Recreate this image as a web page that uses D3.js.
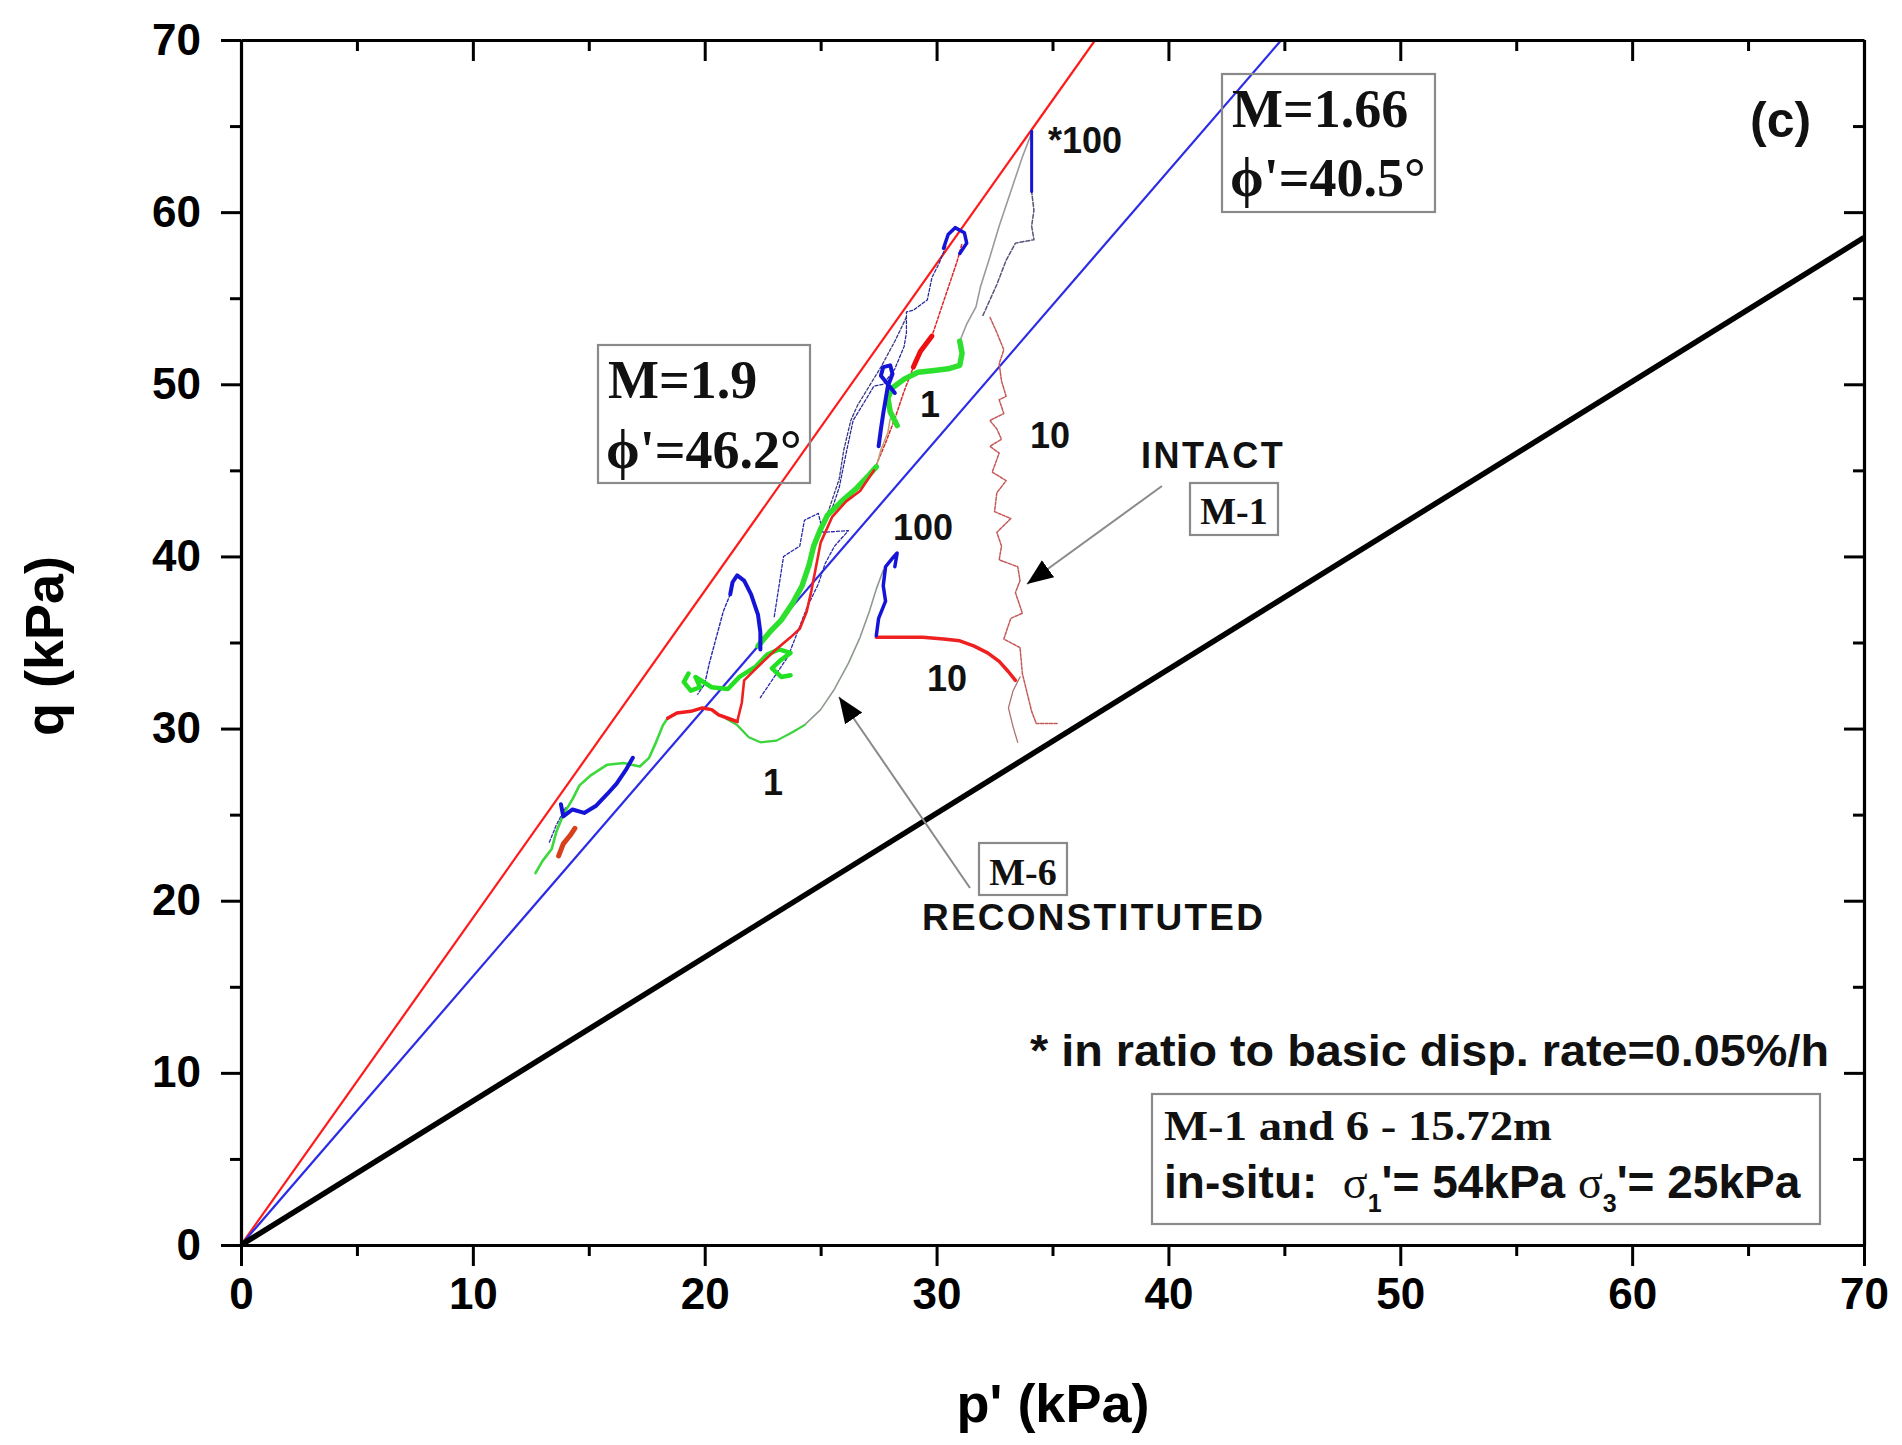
<!DOCTYPE html>
<html><head><meta charset="utf-8">
<script src="https://cdn.jsdelivr.net/npm/d3@7"></script>
<style>
html,body{margin:0;padding:0;background:#fff;}
svg{display:block;}
</style></head>
<body>
<svg id="chart" width="1902" height="1445"></svg>
<script>
// ---------- DATA (p', q in kPa) ----------
const xTicks = [0,10,20,30,40,50,60,70];
const yTicks = [0,10,20,30,40,50,60,70];
const minorTicks = [5,15,25,35,45,55,65];
// slopes q/p' of the reference lines: M=1.9 (red), M=1.66 (blue, as drawn), in-situ K0 (black)
const lineSlopes = [1.9, 1.56, 0.836];

const m6GreenLow = [[12.7,21.6],[13.0,22.3],[13.4,23.0],[13.6,24.0],[13.9,25.0],[14.3,25.9],[14.6,26.7],[15.1,27.3],[15.8,27.9],[16.5,28.0],[17.2,27.8],[17.6,28.3],[17.9,29.2],[18.2,30.2],[18.4,30.6]];
const redThickLow = [[18.4,30.6],[18.8,30.9],[19.4,31.0],[19.9,31.2],[20.3,31.1],[20.6,30.8],[21.0,30.6],[21.4,30.4]];
const redMid = [[21.4,30.4],[21.6,31.5],[21.7,32.8],[22.3,33.6],[23.0,34.5],[23.7,35.3],[24.1,35.8],[24.4,36.8],[24.6,38.0],[24.8,39.4],[25.0,40.8],[25.5,42.3],[26.1,43.2],[26.7,43.8],[27.3,45.0]];
const redDashUp = [[27.3,45.0],[27.8,46.6],[28.2,48.0],[28.6,49.6],[29.0,51.0],[29.4,52.0],[29.8,52.8],[30.1,54.0],[30.5,55.6],[30.9,57.2],[31.1,58.2]];
const redMarkers = [[29.0,51.0],[29.3,51.9],[29.8,52.8]];
const greenLowCurve = [[20.9,30.6],[21.4,30.2],[21.9,29.5],[22.4,29.2],[23.1,29.3],[23.8,29.8],[24.3,30.2]];
const grayLowCurve = [[24.3,30.2],[25.0,31.1],[25.6,32.3],[26.2,33.8],[26.7,35.3],[27.1,36.8],[27.4,38.1],[27.7,39.2]];
const blueThickLow = [[13.8,25.6],[13.9,24.9],[14.3,25.3],[14.8,25.1],[15.3,25.5],[15.8,26.2],[16.2,26.8],[16.6,27.6],[16.9,28.3]];
const redSmallLow = [[13.7,22.6],[13.9,23.3],[14.2,23.8],[14.4,24.2]];
const blueDashLow = [[13.3,23.4],[13.6,24.4],[14.0,25.4]];
const blueLoopMid = [[22.4,34.6],[22.4,35.6],[22.3,36.6],[22.0,37.8],[21.7,38.6],[21.4,38.9],[21.2,38.5],[21.1,37.8]];
const blueDashMid = [[21.1,37.8],[20.8,36.8],[20.5,35.3],[20.2,33.8],[20.0,32.6],[19.7,32.0]];
const greenBlobs = [[19.3,33.2],[19.1,32.7],[19.4,32.2],[19.8,32.4],[19.6,33.0],[20.3,32.4],[21.0,32.3],[21.5,33.0],[22.2,33.6],[22.7,34.3],[23.2,34.6],[23.7,34.4],[23.3,34.0],[22.9,33.5],[23.3,33.0],[23.7,33.1]];
const greenThickUp = [[22.3,34.8],[22.8,35.6],[23.3,36.3],[23.8,37.3],[24.2,38.3],[24.5,39.5],[24.7,40.6],[25.0,41.6],[25.3,42.4],[25.9,43.2],[26.5,43.9],[27.0,44.6],[27.4,45.2]];
const tanThin = [[27.4,45.2],[27.6,46.2],[27.9,47.2],[28.0,48.0]];
const blueThickUpper = [[27.5,46.4],[27.6,47.4],[27.7,48.3],[27.8,49.1],[27.9,49.9],[28.1,50.6],[28.0,51.1],[27.7,51.0],[27.6,50.5],[27.9,50.0],[28.2,49.5]];
const greenThickUpper = [[28.3,47.6],[28.0,48.4],[27.9,49.2],[28.1,49.8],[28.6,50.3],[29.2,50.7],[29.9,50.8],[30.5,50.9],[31.0,51.1],[31.1,51.8],[31.0,52.5]];
const grayUpper = [[31.0,52.5],[31.3,53.5],[31.7,54.5],[31.9,55.7],[32.3,57.4],[32.7,59.2],[33.2,61.2],[33.7,63.2],[34.1,64.6]];
const darkDashUpper = [[32.0,54.0],[32.6,55.8],[33.0,57.2],[33.4,58.2],[34.2,58.4],[34.1,59.2],[34.2,60.1],[34.1,61.2]];
const blueThickTop = [[34.1,61.2],[34.1,62.8],[34.1,64.7]];
const blueLoopTop = [[30.3,57.9],[30.5,58.7],[30.8,59.1],[31.2,58.8],[31.3,58.2],[31.0,57.6]];
const blueDashTop = [[30.4,58.0],[30.1,57.0],[29.8,56.2],[29.6,54.9],[29.0,54.3],[28.7,54.2],[28.7,53.0],[28.6,52.2],[28.2,50.9],[27.7,50.0],[27.3,49.9],[26.9,49.0],[26.4,47.9],[26.1,46.0],[25.8,44.0],[25.5,42.8]];
const darkDash2 = [[28.7,53.9],[28.2,52.5],[27.6,51.0],[27.1,49.9],[26.6,48.8],[26.3,47.9],[26.0,46.2],[25.8,44.5],[25.3,42.5]];
const blueZigMid = [[23.0,36.5],[23.4,40.0],[24.1,40.6],[24.3,42.1],[24.9,42.5],[25.1,41.4],[26.2,41.5],[25.6,40.6],[25.2,39.6],[24.9,38.4],[24.4,37.0],[24.0,35.6],[23.6,34.2],[23.0,33.0],[22.4,31.8]];
const blue100 = [[27.4,35.4],[27.5,36.4],[27.8,37.4],[27.7,38.3],[27.8,39.4],[28.1,39.9],[28.3,40.2],[28.2,39.4]];
const redThick10 = [[27.4,35.3],[28.4,35.3],[29.4,35.3],[30.3,35.2],[31.0,35.1],[31.6,34.8],[32.2,34.4],[32.7,33.9],[33.1,33.3],[33.4,32.8]];
const intactM1 = [[35.2,30.3],[34.3,30.3],[34.1,31.0],[33.9,32.1],[33.7,33.2],[33.6,34.7],[32.9,35.2],[33.2,36.4],[33.7,36.7],[33.4,37.9],[33.6,38.6],[33.5,39.4],[32.7,39.8],[32.8,40.6],[32.6,41.4],[33.2,42.2],[32.5,42.6],[32.6,43.7],[33.0,44.4],[32.4,44.9],[32.7,46.0],[32.3,46.4],[32.8,46.8],[32.6,47.4],[32.3,47.9],[32.9,48.3],[32.7,49.1],[33.0,49.3],[32.8,50.2],[32.7,51.2],[32.9,52.0],[32.6,53.0],[32.3,53.9]];
const intactM1b = [[33.5,29.2],[33.3,30.1],[33.1,31.2],[33.3,32.2],[33.6,33.0]];

// ---------- LAYOUT / STYLE ----------
const svg = d3.select('#chart');
const L = 241, R = 1864, T = 40, B = 1245;
const x = d3.scaleLinear().domain([0,70]).range([L,R]);
const y = d3.scaleLinear().domain([0,70]).range([B,T]);
const SANS = "'Liberation Sans', Arial, sans-serif";
const SERIF = "'Liberation Serif', 'Times New Roman', serif";

const defs = svg.append('defs');
defs.append('clipPath').attr('id','plotclip').append('rect')
  .attr('x',L).attr('y',T).attr('width',R-L).attr('height',B-T);
defs.append('marker').attr('id','ah').attr('viewBox','0 0 10 10')
  .attr('refX',10).attr('refY',5).attr('markerWidth',26).attr('markerHeight',26)
  .attr('markerUnits','userSpaceOnUse').attr('orient','auto')
  .append('path').attr('d','M0,1 L10,5 L0,9 Z').attr('fill','#000');

const plot = svg.append('g').attr('clip-path','url(#plotclip)');

// reference lines
const lineColors = ['#ff1a1a','#2b2be6','#000'];
const lineWidths = [2.2,2.2,5.5];
lineSlopes.forEach((m,i)=>{
  const pEnd = Math.min(70, 70/m);
  plot.append('line')
    .attr('x1',x(0)).attr('y1',y(0))
    .attr('x2',x(pEnd)).attr('y2',y(m*pEnd))
    .attr('stroke',lineColors[i]).attr('stroke-width',lineWidths[i]);
});

const lineGen = d3.line().x(d=>x(d[0])).y(d=>y(d[1])).curve(d3.curveLinear);
const series = [
  {d:intactM1, c:'#c45a5a', w:1.5, dash:'3,1.5'},
  {d:intactM1b, c:'#b07070', w:1.3},
  {d:grayUpper, c:'#9a9a9a', w:1.6},
  {d:darkDashUpper, c:'#555577', w:1.5, dash:'4,2'},
  {d:grayLowCurve, c:'#8f9a8f', w:1.6},
  {d:greenLowCurve, c:'#3cd23c', w:2.2},
  {d:blueDashTop, c:'#2a2a9a', w:1.3, dash:'3,2'},
  {d:darkDash2, c:'#3a3a80', w:1.3, dash:'3,2'},
  {d:blueZigMid, c:'#2a2ab0', w:1.3, dash:'3,2'},
  {d:blueDashMid, c:'#2a2ab0', w:1.4, dash:'3,2'},
  {d:blueDashLow, c:'#2a2ab0', w:1.3, dash:'3,2'},
  {d:redDashUp, c:'#e0262a', w:1.5, dash:'3,2'},
  {d:tanThin, c:'#c0a070', w:1.5},
  {d:m6GreenLow, c:'#3cd83c', w:2.6},
  {d:greenBlobs, c:'#22e022', w:4.5},
  {d:greenThickUp, c:'#2ee02e', w:5.5},
  {d:greenThickUpper, c:'#2ee02e', w:5.5},
  {d:redThickLow, c:'#ee1c1c', w:3.5},
  {d:redMid, c:'#ee2020', w:2.6},
  {d:redMarkers, c:'#ee1010', w:5},
  {d:redSmallLow, c:'#d8401c', w:5},
  {d:redThick10, c:'#ee2020', w:3.5},
  {d:blueThickLow, c:'#1414d8', w:4},
  {d:blueLoopMid, c:'#1414d8', w:4},
  {d:blueThickUpper, c:'#1414d8', w:4},
  {d:blueLoopTop, c:'#1414d8', w:3.5},
  {d:blueThickTop, c:'#1414d8', w:3},
  {d:blue100, c:'#1414d8', w:3.5}
];
series.forEach(s=>{
  plot.append('path').attr('d',lineGen(s.d)).attr('fill','none')
    .attr('stroke',s.c).attr('stroke-width',s.w)
    .attr('stroke-linejoin','round').attr('stroke-linecap','round')
    .attr('stroke-dasharray',s.dash||null);
});

// ---------- AXES ----------
function styleAxis(g){
  g.selectAll('path.domain').attr('stroke','#000').attr('stroke-width',3.2);
  g.selectAll('.tick line').attr('stroke','#000').attr('stroke-width',3);
  g.selectAll('.tick text').attr('font-family',SANS).attr('font-weight','bold')
    .attr('font-size',44).attr('fill','#000');
}
const fmt = d3.format('d');
const gB = svg.append('g').attr('transform',`translate(0,${B})`)
  .call(d3.axisBottom(x).tickValues(xTicks).tickFormat(fmt).tickSize(21).tickSizeOuter(0).tickPadding(12));
styleAxis(gB);
svg.append('g').attr('transform',`translate(0,${B})`)
  .call(d3.axisBottom(x).tickValues(minorTicks).tickFormat('').tickSize(11).tickSizeOuter(0))
  .call(g=>{g.select('.domain').remove(); g.selectAll('line').attr('stroke','#000').attr('stroke-width',3);});
const gL = svg.append('g').attr('transform',`translate(${L},0)`)
  .call(d3.axisLeft(y).tickValues(yTicks).tickFormat(fmt).tickSize(20).tickSizeOuter(0).tickPadding(20));
styleAxis(gL);
svg.append('g').attr('transform',`translate(${L},0)`)
  .call(d3.axisLeft(y).tickValues(minorTicks).tickFormat('').tickSize(11).tickSizeOuter(0))
  .call(g=>{g.select('.domain').remove(); g.selectAll('line').attr('stroke','#000').attr('stroke-width',3);});
const gT = svg.append('g').attr('transform',`translate(0,${T})`)
  .call(d3.axisTop(x).tickValues(xTicks).tickFormat('').tickSize(-21).tickSizeOuter(0));
styleAxis(gT);
svg.append('g').attr('transform',`translate(0,${T})`)
  .call(d3.axisTop(x).tickValues(minorTicks).tickFormat('').tickSize(-11).tickSizeOuter(0))
  .call(g=>{g.select('.domain').remove(); g.selectAll('line').attr('stroke','#000').attr('stroke-width',3);});
const gR = svg.append('g').attr('transform',`translate(${R},0)`)
  .call(d3.axisRight(y).tickValues(yTicks).tickFormat('').tickSize(-20).tickSizeOuter(0));
styleAxis(gR);
svg.append('g').attr('transform',`translate(${R},0)`)
  .call(d3.axisRight(y).tickValues(minorTicks).tickFormat('').tickSize(-11).tickSizeOuter(0))
  .call(g=>{g.select('.domain').remove(); g.selectAll('line').attr('stroke','#000').attr('stroke-width',3);});

// axis titles
svg.append('text').attr('x',1053).attr('y',1422).attr('text-anchor','middle')
  .attr('font-family',SANS).attr('font-weight','bold').attr('font-size',54).text("p' (kPa)");
svg.append('text').attr('transform','translate(63,646) rotate(-90)').attr('text-anchor','middle')
  .attr('font-family',SANS).attr('font-weight','bold').attr('font-size',54).text('q (kPa)');

// ---------- ANNOTATIONS ----------
function box(x0,y0,w,h){
  svg.append('rect').attr('x',x0).attr('y',y0).attr('width',w).attr('height',h)
    .attr('fill','none').attr('stroke','#8a8a8a').attr('stroke-width',2.2);
}
function txt(t,x0,y0,size,font,opts={}){
  const e = svg.append('text').attr('x',x0).attr('y',y0).attr('font-family',font)
    .attr('font-weight','bold').attr('font-size',size).attr('fill','#111').text(t);
  if(opts.anchor) e.attr('text-anchor',opts.anchor);
  if(opts.ls) e.attr('letter-spacing',opts.ls);
  if(opts.len) e.attr('textLength',opts.len).attr('lengthAdjust','spacingAndGlyphs');
  return e;
}
// M=1.9 box
box(598,345,212,138);
txt('M=1.9',608,398,54,SERIF);
txt("\u03D5'=46.2\u00B0",606,468,54,SERIF);
// M=1.66 box
box(1222,74,213,138);
txt('M=1.66',1232,127,54,SERIF);
txt("\u03D5'=40.5\u00B0",1230,196,54,SERIF);
// (c)
txt('(c)',1750,137,50,SANS);
// curve labels
txt('*100',1048,153,36,SANS);
txt('1',920,417,36,SANS);
txt('10',1030,448,36,SANS);
txt('100',893,540,36,SANS);
txt('10',927,691,36,SANS);
txt('1',763,795,36,SANS);
// INTACT / M-1
txt('INTACT',1141,468,36,SANS,{ls:2.5});
box(1190,483,88,52);
txt('M-1',1234,524,38,SERIF,{anchor:'middle'});
svg.append('line').attr('x1',1162).attr('y1',486).attr('x2',1027).attr('y2',584)
  .attr('stroke','#8a8a8a').attr('stroke-width',2).attr('marker-end','url(#ah)');
// M-6 / RECONSTITUTED
box(979,843,88,52);
txt('M-6',1023,885,38,SERIF,{anchor:'middle'});
txt('RECONSTITUTED',922,930,37,SANS,{ls:2.2});
svg.append('line').attr('x1',970).attr('y1',888).attr('x2',839).attr('y2',697)
  .attr('stroke','#8a8a8a').attr('stroke-width',2).attr('marker-end','url(#ah)');
// footnote
txt('* in ratio to basic disp. rate=0.05%/h',1030,1066,44,SANS,{len:799});
// in-situ box
box(1152,1094,668,130);
txt('M-1 and 6 - 15.72m',1164,1140,42,SERIF,{len:388});
const t2 = svg.append('text').attr('x',1164).attr('y',1198).attr('font-family',SANS)
  .attr('font-weight','bold').attr('font-size',46).attr('fill','#111');
t2.append('tspan').text('in-situ:\u00A0\u00A0');
t2.append('tspan').attr('font-family',SERIF).attr('font-weight','normal').text('\u03C3');
t2.append('tspan').attr('font-size',25).attr('dy',14).text('1');
t2.append('tspan').attr('dy',-14).text("'= 54kPa ");
t2.append('tspan').attr('font-family',SERIF).attr('font-weight','normal').text('\u03C3');
t2.append('tspan').attr('font-size',25).attr('dy',14).text('3');
t2.append('tspan').attr('dy',-14).text("'= 25kPa");
</script>
</body></html>
